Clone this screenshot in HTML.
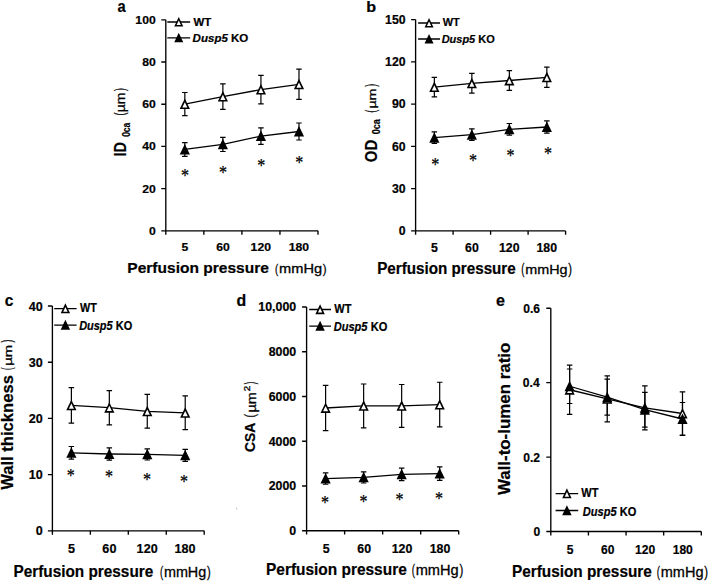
<!DOCTYPE html>
<html><head><meta charset="utf-8"><style>
html,body{margin:0;padding:0;background:#fff;overflow:hidden;}
svg{display:block;font-family:"Liberation Sans", sans-serif;}
text{fill:#000;}
text[font-weight="normal"]{stroke:#000;stroke-width:0.3px;}
text[font-weight="bold"]{stroke:#000;stroke-width:0.2px;}
</style></head><body>
<svg width="709" height="582" viewBox="0 0 709 582">
<rect width="709" height="582" fill="#fff"/>
<path d="M165.8,19.8V230.8H318" stroke="#000" stroke-width="1.35" fill="none"/>
<path d="M161.3,230.8H165.8M161.3,188.6H165.8M161.3,146.4H165.8M161.3,104.2H165.8M161.3,62H165.8M161.3,19.8H165.8M165.8,230.8V234.7M203.85,230.8V234.7M241.9,230.8V234.7M279.95,230.8V234.7M318,230.8V234.7" stroke="#000" stroke-width="1.35" fill="none"/>
<text transform="translate(148.91,234.88) scale(1.0600,1)" font-size="11.5" font-weight="bold" font-style="normal">0</text>
<text transform="translate(142.14,192.68) scale(1.0600,1)" font-size="11.5" font-weight="bold" font-style="normal">20</text>
<text transform="translate(142.14,150.48) scale(1.0600,1)" font-size="11.5" font-weight="bold" font-style="normal">40</text>
<text transform="translate(142.14,108.28) scale(1.0600,1)" font-size="11.5" font-weight="bold" font-style="normal">60</text>
<text transform="translate(142.14,66.08) scale(1.0600,1)" font-size="11.5" font-weight="bold" font-style="normal">80</text>
<text transform="translate(135.36,23.88) scale(1.0600,1)" font-size="11.5" font-weight="bold" font-style="normal">100</text>
<text transform="translate(181.49,250.8) scale(1.0600,1)" font-size="11.5" font-weight="bold" font-style="normal">5</text>
<text transform="translate(216.15,250.8) scale(1.0600,1)" font-size="11.5" font-weight="bold" font-style="normal">60</text>
<text transform="translate(250.62,250.8) scale(1.0600,1)" font-size="11.5" font-weight="bold" font-style="normal">120</text>
<text transform="translate(288.67,250.8) scale(1.0600,1)" font-size="11.5" font-weight="bold" font-style="normal">180</text>
<text transform="translate(127.33,272.6) scale(1.0225,1)" font-size="15.2" font-weight="bold" font-style="normal">Perfusion pressure</text>
<text transform="translate(275.05,272.6) scale(0.7059,1)" font-size="13.6" font-weight="normal" font-style="normal">(</text>
<text transform="translate(279.09,272.5) scale(1.1600,1)" font-size="12.6" font-weight="normal" font-style="normal">mmHg</text>
<text transform="translate(322.8,272.6) scale(0.8366,1)" font-size="13.6" font-weight="normal" font-style="normal">)</text>
<text transform="translate(125.7,156.41) rotate(-90) scale(0.9183,1)" font-size="15.8" font-weight="bold" font-style="normal">ID</text>
<text transform="translate(129.6,136.87) rotate(-90) scale(0.7815,1)" font-size="10.9" font-weight="bold" font-style="normal">0ca</text>
<text transform="translate(125.4,115.62) rotate(-90) scale(0.6047,1)" font-size="14.7" font-weight="normal" font-style="normal">(</text>
<text transform="translate(124.7,112.17) rotate(-90) scale(1.1584,1)" font-size="12" font-weight="normal" font-style="normal">µm</text>
<text transform="translate(125.4,91.1) rotate(-90) scale(0.6047,1)" font-size="14.7" font-weight="normal" font-style="normal">)</text>
<text transform="translate(117.47,12.4) scale(0.8920,1)" font-size="16.4" font-weight="bold" font-style="normal">a</text>
<path d="M167.3,22H190.2M167.3,37.8H190.2" stroke="#000" stroke-width="1.3"/>
<path d="M178.75,16.91L183.25,26.51L174.25,26.51Z"/><path d="M178.75,20.45L180.89,25.01L176.61,25.01Z" fill="#fff"/>
<path d="M178.75,32.71L183.25,42.31L174.25,42.31Z"/>
<text transform="translate(193.5,25.5) scale(1.0710,1)" font-size="10.7" font-weight="bold" font-style="normal">WT</text>
<text transform="translate(192.62,41.6) scale(1.0788,1)" font-size="10.7" font-weight="bold"><tspan font-style="italic">Dusp5</tspan> KO</text>
<path d="M184.83,92.5V115.7M182.08,92.5h5.5M182.08,115.7h5.5M222.88,83.9V109.3M220.12,83.9h5.5M220.12,109.3h5.5M260.93,75.4V103.8M258.18,75.4h5.5M258.18,103.8h5.5M298.98,69.2V99.4M296.23,69.2h5.5M296.23,99.4h5.5" stroke="#000" stroke-width="1.2" fill="none"/>
<path d="M184.83,142.55V156.35M182.08,142.55h5.5M182.08,156.35h5.5M222.88,137.3V151.5M220.12,137.3h5.5M220.12,151.5h5.5M260.93,127.85V144.35M258.18,127.85h5.5M258.18,144.35h5.5M298.98,123V140M296.23,123h5.5M296.23,140h5.5" stroke="#000" stroke-width="1.2" fill="none"/>
<path d="M184.83,104.1L222.88,96.6L260.93,89.6L298.98,84.3" stroke="#000" stroke-width="1.3" fill="none"/>
<path d="M184.83,149.45L222.88,144.4L260.93,136.1L298.98,131.5" stroke="#000" stroke-width="1.3" fill="none"/>
<path d="M184.83,98.53L189.93,109.03L179.73,109.03Z"/><path d="M184.83,102.2L187.37,107.44L182.28,107.44Z" fill="#fff"/>
<path d="M222.88,91.03L227.97,101.53L217.78,101.53Z"/><path d="M222.88,94.7L225.42,99.94L220.33,99.94Z" fill="#fff"/>
<path d="M260.93,84.03L266.03,94.53L255.83,94.53Z"/><path d="M260.93,87.7L263.47,92.94L258.38,92.94Z" fill="#fff"/>
<path d="M298.98,78.73L304.08,89.23L293.88,89.23Z"/><path d="M298.98,82.4L301.52,87.64L296.43,87.64Z" fill="#fff"/>
<path d="M184.83,143.88L189.93,154.38L179.73,154.38Z"/>
<path d="M222.88,138.84L227.97,149.34L217.78,149.34Z"/>
<path d="M260.93,130.53L266.03,141.03L255.83,141.03Z"/>
<path d="M298.98,125.94L304.08,136.44L293.88,136.44Z"/>
<text transform="translate(180.9,182.03) scale(0.88,1)" font-family="Liberation Serif" font-size="18.2" font-weight="normal" style="stroke-width:0.25px">*</text>
<text transform="translate(219.1,178.93) scale(0.88,1)" font-family="Liberation Serif" font-size="18.2" font-weight="normal" style="stroke-width:0.25px">*</text>
<text transform="translate(257.2,172.23) scale(0.88,1)" font-family="Liberation Serif" font-size="18.2" font-weight="normal" style="stroke-width:0.25px">*</text>
<text transform="translate(295.2,169.33) scale(0.88,1)" font-family="Liberation Serif" font-size="18.2" font-weight="normal" style="stroke-width:0.25px">*</text>
<path d="M415.6,19.6V230.9H565.6" stroke="#000" stroke-width="1.35" fill="none"/>
<path d="M411.1,230.9H415.6M411.1,188.64H415.6M411.1,146.38H415.6M411.1,104.12H415.6M411.1,61.86H415.6M411.1,19.6H415.6M415.6,230.9V234.8M453.1,230.9V234.8M490.6,230.9V234.8M528.1,230.9V234.8M565.6,230.9V234.8" stroke="#000" stroke-width="1.35" fill="none"/>
<text transform="translate(398.77,235.2) scale(1.0150,1)" font-size="12.1" font-weight="bold" font-style="normal">0</text>
<text transform="translate(391.94,192.94) scale(1.0150,1)" font-size="12.1" font-weight="bold" font-style="normal">30</text>
<text transform="translate(391.94,150.68) scale(1.0150,1)" font-size="12.1" font-weight="bold" font-style="normal">60</text>
<text transform="translate(391.94,108.42) scale(1.0150,1)" font-size="12.1" font-weight="bold" font-style="normal">90</text>
<text transform="translate(385.11,66.16) scale(1.0150,1)" font-size="12.1" font-weight="bold" font-style="normal">120</text>
<text transform="translate(385.11,23.9) scale(1.0150,1)" font-size="12.1" font-weight="bold" font-style="normal">150</text>
<text transform="translate(430.99,251.9) scale(1.0150,1)" font-size="12.1" font-weight="bold" font-style="normal">5</text>
<text transform="translate(465.08,251.9) scale(1.0150,1)" font-size="12.1" font-weight="bold" font-style="normal">60</text>
<text transform="translate(498.97,251.9) scale(1.0150,1)" font-size="12.1" font-weight="bold" font-style="normal">120</text>
<text transform="translate(536.47,251.9) scale(1.0150,1)" font-size="12.1" font-weight="bold" font-style="normal">180</text>
<text transform="translate(377.15,274.4) scale(0.9396,1)" font-size="16.2" font-weight="bold" font-style="normal">Perfusion pressure</text>
<text transform="translate(521.26,274.41) scale(0.6411,1)" font-size="14.69" font-weight="normal" font-style="normal">(</text>
<text transform="translate(525.23,274.3) scale(1.0570,1)" font-size="13.61" font-weight="normal" font-style="normal">mmHg</text>
<text transform="translate(568.26,274.41) scale(0.7602,1)" font-size="14.69" font-weight="normal" font-style="normal">)</text>
<text transform="translate(376.6,162.17) rotate(-90) scale(0.9211,1)" font-size="16.2" font-weight="bold" font-style="normal">OD</text>
<text transform="translate(379.9,134.18) rotate(-90) scale(0.8186,1)" font-size="11" font-weight="bold" font-style="normal">0ca</text>
<text transform="translate(376,112.83) rotate(-90) scale(0.6651,1)" font-size="13.9" font-weight="normal" font-style="normal">(</text>
<text transform="translate(376.2,108.59) rotate(-90) scale(1.2145,1)" font-size="11.7" font-weight="normal" font-style="normal">µm</text>
<text transform="translate(376,86.7) rotate(-90) scale(0.6395,1)" font-size="13.9" font-weight="normal" font-style="normal">)</text>
<text transform="translate(366.19,12.4) scale(1.0385,1)" font-size="15.5" font-weight="bold" font-style="normal">b</text>
<path d="M418.1,23H440M418.1,39H440" stroke="#000" stroke-width="1.3"/>
<path d="M429.05,17.91L433.55,27.51L424.55,27.51Z"/><path d="M429.05,21.45L431.19,26.01L426.91,26.01Z" fill="#fff"/>
<path d="M429.05,33.91L433.55,43.51L424.55,43.51Z"/>
<text transform="translate(442.7,26.4) scale(0.9686,1)" font-size="11.3" font-weight="bold" font-style="normal">WT</text>
<text transform="translate(441.63,42.9) scale(0.9735,1)" font-size="11.3" font-weight="bold"><tspan font-style="italic">Dusp5</tspan> KO</text>
<path d="M434.35,77.35V96.85M431.6,77.35h5.5M431.6,96.85h5.5M471.85,73.45V93.15M469.1,73.45h5.5M469.1,93.15h5.5M509.35,70.65V90.35M506.6,70.65h5.5M506.6,90.35h5.5M546.85,67.15V87.45M544.1,67.15h5.5M544.1,87.45h5.5" stroke="#000" stroke-width="1.2" fill="none"/>
<path d="M434.35,131.9V143.5M431.6,131.9h5.5M431.6,143.5h5.5M471.85,128.9V140.5M469.1,128.9h5.5M469.1,140.5h5.5M509.35,123.5V135.1M506.6,123.5h5.5M506.6,135.1h5.5M546.85,120.95V133.05M544.1,120.95h5.5M544.1,133.05h5.5" stroke="#000" stroke-width="1.2" fill="none"/>
<path d="M434.35,87.1L471.85,83.3L509.35,80.5L546.85,77.3" stroke="#000" stroke-width="1.3" fill="none"/>
<path d="M434.35,137.7L471.85,134.7L509.35,129.3L546.85,127" stroke="#000" stroke-width="1.3" fill="none"/>
<path d="M434.35,81.53L439.45,92.03L429.25,92.03Z"/><path d="M434.35,85.2L436.89,90.44L431.81,90.44Z" fill="#fff"/>
<path d="M471.85,77.73L476.95,88.23L466.75,88.23Z"/><path d="M471.85,81.4L474.39,86.64L469.31,86.64Z" fill="#fff"/>
<path d="M509.35,74.94L514.45,85.44L504.25,85.44Z"/><path d="M509.35,78.6L511.89,83.84L506.81,83.84Z" fill="#fff"/>
<path d="M546.85,71.73L551.95,82.23L541.75,82.23Z"/><path d="M546.85,75.4L549.39,80.64L544.31,80.64Z" fill="#fff"/>
<path d="M434.35,132.13L439.45,142.63L429.25,142.63Z"/>
<path d="M471.85,129.13L476.95,139.63L466.75,139.63Z"/>
<path d="M509.35,123.74L514.45,134.24L504.25,134.24Z"/>
<path d="M546.85,121.44L551.95,131.94L541.75,131.94Z"/>
<text transform="translate(431.2,171.43) scale(0.88,1)" font-family="Liberation Serif" font-size="18.2" font-weight="normal" style="stroke-width:0.25px">*</text>
<text transform="translate(468.9,166.93) scale(0.88,1)" font-family="Liberation Serif" font-size="18.2" font-weight="normal" style="stroke-width:0.25px">*</text>
<text transform="translate(506.5,162.03) scale(0.88,1)" font-family="Liberation Serif" font-size="18.2" font-weight="normal" style="stroke-width:0.25px">*</text>
<text transform="translate(544,160.33) scale(0.88,1)" font-family="Liberation Serif" font-size="18.2" font-weight="normal" style="stroke-width:0.25px">*</text>
<path d="M52.4,306V530.8H204.2" stroke="#000" stroke-width="1.35" fill="none"/>
<path d="M47.9,530.8H52.4M47.9,474.6H52.4M47.9,418.4H52.4M47.9,362.2H52.4M47.9,306H52.4M52.4,530.8V534.7M90.35,530.8V534.7M128.3,530.8V534.7M166.25,530.8V534.7M204.2,530.8V534.7" stroke="#000" stroke-width="1.35" fill="none"/>
<text transform="translate(35.8,535.41) scale(0.9700,1)" font-size="13" font-weight="bold" font-style="normal">0</text>
<text transform="translate(28.78,479.21) scale(0.9700,1)" font-size="13" font-weight="bold" font-style="normal">10</text>
<text transform="translate(28.78,423.01) scale(0.9700,1)" font-size="13" font-weight="bold" font-style="normal">20</text>
<text transform="translate(28.78,366.81) scale(0.9700,1)" font-size="13" font-weight="bold" font-style="normal">30</text>
<text transform="translate(28.78,310.62) scale(0.9700,1)" font-size="13" font-weight="bold" font-style="normal">40</text>
<text transform="translate(67.93,552.7) scale(0.9700,1)" font-size="13" font-weight="bold" font-style="normal">5</text>
<text transform="translate(102.37,552.7) scale(0.9700,1)" font-size="13" font-weight="bold" font-style="normal">60</text>
<text transform="translate(136.62,552.7) scale(0.9700,1)" font-size="13" font-weight="bold" font-style="normal">120</text>
<text transform="translate(174.57,552.7) scale(0.9700,1)" font-size="13" font-weight="bold" font-style="normal">180</text>
<text transform="translate(13.54,577.05) scale(0.9243,1)" font-size="16.6" font-weight="bold" font-style="normal">Perfusion pressure</text>
<text transform="translate(159.96,576.61) scale(0.6182,1)" font-size="15.23" font-weight="normal" font-style="normal">(</text>
<text transform="translate(163.93,576.5) scale(1.0193,1)" font-size="14.11" font-weight="normal" font-style="normal">mmHg</text>
<text transform="translate(206.96,576.61) scale(0.7331,1)" font-size="15.23" font-weight="normal" font-style="normal">)</text>
<text transform="translate(12.9,489.8) rotate(-90) scale(1.0253,1)" font-size="16.2" font-weight="bold" font-style="normal">Wall thickness</text>
<text transform="translate(12.4,370.03) rotate(-90) scale(0.5172,1)" font-size="13.75" font-weight="normal" font-style="normal">(</text>
<text transform="translate(12.4,365.73) rotate(-90) scale(1.3190,1)" font-size="11.3" font-weight="normal" font-style="normal">µm</text>
<text transform="translate(12.4,342.6) rotate(-90) scale(0.6206,1)" font-size="13.75" font-weight="normal" font-style="normal">)</text>
<text transform="translate(4.77,305.8) scale(0.9568,1)" font-size="16.2" font-weight="bold" font-style="normal">c</text>
<path d="M54.2,308.6H76.6M54.2,325.1H76.6" stroke="#000" stroke-width="1.3"/>
<path d="M65.4,303.3L70.1,313.3L60.7,313.3Z"/><path d="M65.4,307.06L67.58,311.7L63.22,311.7Z" fill="#fff"/>
<path d="M65.4,319.8L70.1,329.8L60.7,329.8Z"/>
<text transform="translate(80.1,312.4) scale(0.9089,1)" font-size="11.9" font-weight="bold" font-style="normal">WT</text>
<text transform="translate(79.13,330) scale(0.9244,1)" font-size="11.9" font-weight="bold"><tspan font-style="italic">Dusp5</tspan> KO</text>
<path d="M71.38,387.6V423.2M68.62,387.6h5.5M68.62,423.2h5.5M109.32,390.6V424.8M106.57,390.6h5.5M106.57,424.8h5.5M147.27,394.4V428.2M144.52,394.4h5.5M144.52,428.2h5.5M185.22,395.9V429.7M182.47,395.9h5.5M182.47,429.7h5.5" stroke="#000" stroke-width="1.2" fill="none"/>
<path d="M71.38,446.5V459.1M68.62,446.5h5.5M68.62,459.1h5.5M109.32,447.8V460.2M106.57,447.8h5.5M106.57,460.2h5.5M147.27,448.8V460M144.52,448.8h5.5M144.52,460h5.5M185.22,449.4V461.4M182.47,449.4h5.5M182.47,461.4h5.5" stroke="#000" stroke-width="1.2" fill="none"/>
<path d="M71.38,405.4L109.32,407.7L147.27,411.3L185.22,412.8" stroke="#000" stroke-width="1.3" fill="none"/>
<path d="M71.38,452.8L109.32,454L147.27,454.4L185.22,455.4" stroke="#000" stroke-width="1.3" fill="none"/>
<path d="M71.38,399.83L76.47,410.33L66.28,410.33Z"/><path d="M71.38,403.5L73.92,408.73L68.83,408.73Z" fill="#fff"/>
<path d="M109.32,402.13L114.42,412.63L104.22,412.63Z"/><path d="M109.32,405.8L111.87,411.03L106.78,411.03Z" fill="#fff"/>
<path d="M147.27,405.74L152.37,416.24L142.17,416.24Z"/><path d="M147.27,409.4L149.82,414.63L144.73,414.63Z" fill="#fff"/>
<path d="M185.22,407.24L190.32,417.74L180.12,417.74Z"/><path d="M185.22,410.9L187.77,416.13L182.68,416.13Z" fill="#fff"/>
<path d="M71.38,447.24L76.47,457.74L66.28,457.74Z"/>
<path d="M109.32,448.44L114.42,458.94L104.22,458.94Z"/>
<path d="M147.27,448.83L152.37,459.33L142.17,459.33Z"/>
<path d="M185.22,449.83L190.32,460.33L180.12,460.33Z"/>
<text transform="translate(66.8,482.33) scale(0.88,1)" font-family="Liberation Serif" font-size="18.2" font-weight="normal" style="stroke-width:0.25px">*</text>
<text transform="translate(105.1,483.23) scale(0.88,1)" font-family="Liberation Serif" font-size="18.2" font-weight="normal" style="stroke-width:0.25px">*</text>
<text transform="translate(143.1,486.03) scale(0.88,1)" font-family="Liberation Serif" font-size="18.2" font-weight="normal" style="stroke-width:0.25px">*</text>
<text transform="translate(180.1,487.93) scale(0.88,1)" font-family="Liberation Serif" font-size="18.2" font-weight="normal" style="stroke-width:0.25px">*</text>
<path d="M306.6,307V530.7H458.7" stroke="#000" stroke-width="1.35" fill="none"/>
<path d="M302.1,530.7H306.6M302.1,485.96H306.6M302.1,441.22H306.6M302.1,396.48H306.6M302.1,351.74H306.6M302.1,307H306.6M306.6,530.7V534.6M344.62,530.7V534.6M382.65,530.7V534.6M420.68,530.7V534.6M458.7,530.7V534.6" stroke="#000" stroke-width="1.35" fill="none"/>
<text transform="translate(289.32,535.14) scale(0.9900,1)" font-size="12.5" font-weight="bold" font-style="normal">0</text>
<text transform="translate(268.67,490.4) scale(0.9900,1)" font-size="12.5" font-weight="bold" font-style="normal">2000</text>
<text transform="translate(268.67,445.66) scale(0.9900,1)" font-size="12.5" font-weight="bold" font-style="normal">4000</text>
<text transform="translate(268.67,400.92) scale(0.9900,1)" font-size="12.5" font-weight="bold" font-style="normal">6000</text>
<text transform="translate(268.67,356.18) scale(0.9900,1)" font-size="12.5" font-weight="bold" font-style="normal">8000</text>
<text transform="translate(258.35,311.44) scale(0.9900,1)" font-size="12.5" font-weight="bold" font-style="normal">10,000</text>
<text transform="translate(322.73,552.9) scale(0.9900,1)" font-size="12.5" font-weight="bold" font-style="normal">5</text>
<text transform="translate(357.31,552.9) scale(0.9900,1)" font-size="12.5" font-weight="bold" font-style="normal">60</text>
<text transform="translate(391.7,552.9) scale(0.9900,1)" font-size="12.5" font-weight="bold" font-style="normal">120</text>
<text transform="translate(429.73,552.9) scale(0.9900,1)" font-size="12.5" font-weight="bold" font-style="normal">180</text>
<text transform="translate(266.03,575.1) scale(0.9247,1)" font-size="16.7" font-weight="bold" font-style="normal">Perfusion pressure</text>
<text transform="translate(411.65,575.11) scale(0.6303,1)" font-size="15.23" font-weight="normal" font-style="normal">(</text>
<text transform="translate(415.69,575) scale(1.0357,1)" font-size="14.11" font-weight="normal" font-style="normal">mmHg</text>
<text transform="translate(459.4,575.11) scale(0.7470,1)" font-size="15.23" font-weight="normal" font-style="normal">)</text>
<text transform="translate(255.2,451.93) rotate(-90) scale(0.8953,1)" font-size="15.5" font-weight="bold" font-style="normal">CSA</text>
<text transform="translate(254.6,417.48) rotate(-90) scale(0.7313,1)" font-size="14.1" font-weight="normal" font-style="normal">(</text>
<text transform="translate(255.9,412.6) rotate(-90) scale(1.1108,1)" font-size="13" font-weight="normal" font-style="normal">µm</text>
<text transform="translate(249.9,391.16) rotate(-90) scale(1.1411,1)" font-size="8.6" font-weight="normal" font-style="normal">2</text>
<text transform="translate(254.6,384.2) rotate(-90) scale(0.5548,1)" font-size="14.1" font-weight="normal" font-style="normal">)</text>
<text transform="translate(236.4,305.7) scale(1.0194,1)" font-size="15.6" font-weight="bold" font-style="normal">d</text>
<path d="M309.2,309.5H331M309.2,326.1H331" stroke="#000" stroke-width="1.3"/>
<path d="M320.1,304.2L324.8,314.2L315.4,314.2Z"/><path d="M320.1,307.96L322.28,312.6L317.92,312.6Z" fill="#fff"/>
<path d="M320.1,320.8L324.8,330.8L315.4,330.8Z"/>
<text transform="translate(334.3,313.2) scale(0.9252,1)" font-size="11.9" font-weight="bold" font-style="normal">WT</text>
<text transform="translate(333.63,330.6) scale(0.9332,1)" font-size="11.9" font-weight="bold"><tspan font-style="italic">Dusp5</tspan> KO</text>
<path d="M325.61,385.4V430.6M322.86,385.4h5.5M322.86,430.6h5.5M363.64,384V427.8M360.89,384h5.5M360.89,427.8h5.5M401.66,384.5V427.3M398.91,384.5h5.5M398.91,427.3h5.5M439.69,382.25V426.95M436.94,382.25h5.5M436.94,426.95h5.5" stroke="#000" stroke-width="1.2" fill="none"/>
<path d="M325.61,472.95V484.25M322.86,472.95h5.5M322.86,484.25h5.5M363.64,471.8V483M360.89,471.8h5.5M360.89,483h5.5M401.66,468.15V480.65M398.91,468.15h5.5M398.91,480.65h5.5M439.69,466.85V480.35M436.94,466.85h5.5M436.94,480.35h5.5" stroke="#000" stroke-width="1.2" fill="none"/>
<path d="M325.61,408L363.64,405.9L401.66,405.9L439.69,404.6" stroke="#000" stroke-width="1.3" fill="none"/>
<path d="M325.61,478.6L363.64,477.4L401.66,474.4L439.69,473.6" stroke="#000" stroke-width="1.3" fill="none"/>
<path d="M325.61,402.44L330.71,412.94L320.51,412.94Z"/><path d="M325.61,406.1L328.16,411.33L323.07,411.33Z" fill="#fff"/>
<path d="M363.64,400.33L368.74,410.83L358.54,410.83Z"/><path d="M363.64,404L366.18,409.23L361.09,409.23Z" fill="#fff"/>
<path d="M401.66,400.33L406.76,410.83L396.56,410.83Z"/><path d="M401.66,404L404.21,409.23L399.12,409.23Z" fill="#fff"/>
<path d="M439.69,399.04L444.79,409.54L434.59,409.54Z"/><path d="M439.69,402.7L442.23,407.94L437.14,407.94Z" fill="#fff"/>
<path d="M325.61,473.04L330.71,483.54L320.51,483.54Z"/>
<path d="M363.64,471.83L368.74,482.33L358.54,482.33Z"/>
<path d="M401.66,468.83L406.76,479.33L396.56,479.33Z"/>
<path d="M439.69,468.04L444.79,478.54L434.59,478.54Z"/>
<text transform="translate(320.9,508.53) scale(0.88,1)" font-family="Liberation Serif" font-size="18.2" font-weight="normal" style="stroke-width:0.25px">*</text>
<text transform="translate(359.4,508.03) scale(0.88,1)" font-family="Liberation Serif" font-size="18.2" font-weight="normal" style="stroke-width:0.25px">*</text>
<text transform="translate(395.4,505.63) scale(0.88,1)" font-family="Liberation Serif" font-size="18.2" font-weight="normal" style="stroke-width:0.25px">*</text>
<text transform="translate(435.1,505.13) scale(0.88,1)" font-family="Liberation Serif" font-size="18.2" font-weight="normal" style="stroke-width:0.25px">*</text>
<path d="M550.8,308.25V531.5H701.3" stroke="#000" stroke-width="1.35" fill="none"/>
<path d="M546.3,531.5H550.8M546.3,457.08H550.8M546.3,382.67H550.8M546.3,308.25H550.8M550.8,531.5V535.4M588.42,531.5V535.4M626.05,531.5V535.4M663.67,531.5V535.4M701.3,531.5V535.4" stroke="#000" stroke-width="1.35" fill="none"/>
<text transform="translate(533.47,536.12) scale(0.9300,1)" font-size="13" font-weight="bold" font-style="normal">0</text>
<text transform="translate(523.19,461.7) scale(0.9300,1)" font-size="13" font-weight="bold" font-style="normal">0.2</text>
<text transform="translate(522.82,387.28) scale(0.9300,1)" font-size="13" font-weight="bold" font-style="normal">0.4</text>
<text transform="translate(523.19,312.87) scale(0.9300,1)" font-size="13" font-weight="bold" font-style="normal">0.6</text>
<text transform="translate(566.71,554.2) scale(0.9300,1)" font-size="13" font-weight="bold" font-style="normal">5</text>
<text transform="translate(600.97,554.2) scale(0.9300,1)" font-size="13" font-weight="bold" font-style="normal">60</text>
<text transform="translate(635.04,554.2) scale(0.9300,1)" font-size="13" font-weight="bold" font-style="normal">120</text>
<text transform="translate(672.67,554.2) scale(0.9300,1)" font-size="13" font-weight="bold" font-style="normal">180</text>
<text transform="translate(511.94,576.7) scale(0.9194,1)" font-size="16.7" font-weight="bold" font-style="normal">Perfusion pressure</text>
<text transform="translate(656.75,576.71) scale(0.6257,1)" font-size="15.23" font-weight="normal" font-style="normal">(</text>
<text transform="translate(660.77,576.6) scale(1.0295,1)" font-size="14.11" font-weight="normal" font-style="normal">mmHg</text>
<text transform="translate(704.22,576.71) scale(0.7418,1)" font-size="15.23" font-weight="normal" font-style="normal">)</text>
<text transform="translate(509.65,495.1) rotate(-90) scale(1.0184,1)" font-size="16.6" font-weight="bold" font-style="normal">Wall-to-lumen ratio</text>
<text transform="translate(495.9,305.8) scale(0.9938,1)" font-size="16.2" font-weight="bold" font-style="normal">e</text>
<path d="M555.6,493.6H578.2M555.6,510.5H578.2" stroke="#000" stroke-width="1.3"/>
<path d="M566.9,488.3L571.6,498.3L562.2,498.3Z"/><path d="M566.9,492.06L569.08,496.7L564.72,496.7Z" fill="#fff"/>
<path d="M566.9,505.2L571.6,515.2L562.2,515.2Z"/>
<text transform="translate(581.3,497.2) scale(0.9252,1)" font-size="11.9" font-weight="bold" font-style="normal">WT</text>
<text transform="translate(582.83,515.8) scale(0.9315,1)" font-size="11.9" font-weight="bold"><tspan font-style="italic">Dusp5</tspan> KO</text>
<path d="M569.61,365.15V414.35M566.86,365.15h5.5M566.86,414.35h5.5M607.24,375.9V421.9M604.49,375.9h5.5M604.49,421.9h5.5M644.86,385.85V429.85M642.11,385.85h5.5M642.11,429.85h5.5M682.49,391.9V435.1M679.74,391.9h5.5M679.74,435.1h5.5" stroke="#000" stroke-width="1.2" fill="none"/>
<path d="M569.61,369V403.5M566.86,369h5.5M566.86,403.5h5.5M607.24,379.2V415.2M604.49,379.2h5.5M604.49,415.2h5.5M644.86,392.3V427.1M642.11,392.3h5.5M642.11,427.1h5.5M682.49,402.5V435.5M679.74,402.5h5.5M679.74,435.5h5.5" stroke="#000" stroke-width="1.2" fill="none"/>
<path d="M569.61,389.75L607.24,398.9L644.86,407.85L682.49,413.5" stroke="#000" stroke-width="1.3" fill="none"/>
<path d="M569.61,386.25L607.24,397.2L644.86,409.7L682.49,419" stroke="#000" stroke-width="1.3" fill="none"/>
<path d="M569.61,384.19L574.71,394.69L564.51,394.69Z"/><path d="M569.61,387.85L572.16,393.08L567.07,393.08Z" fill="#fff"/>
<path d="M607.24,393.33L612.34,403.83L602.14,403.83Z"/><path d="M607.24,397L609.78,402.23L604.69,402.23Z" fill="#fff"/>
<path d="M644.86,402.29L649.96,412.79L639.76,412.79Z"/><path d="M644.86,405.95L647.41,411.19L642.32,411.19Z" fill="#fff"/>
<path d="M682.49,407.94L687.59,418.44L677.39,418.44Z"/><path d="M682.49,411.6L685.03,416.83L679.94,416.83Z" fill="#fff"/>
<path d="M569.61,380.69L574.71,391.19L564.51,391.19Z"/>
<path d="M607.24,391.63L612.34,402.13L602.14,402.13Z"/>
<path d="M644.86,404.13L649.96,414.63L639.76,414.63Z"/>
<path d="M682.49,413.44L687.59,423.94L677.39,423.94Z"/>
<ellipse cx="236.7" cy="508.7" rx="0.7" ry="1.1" fill="#c8c8c8"/>
</svg>
</body></html>
